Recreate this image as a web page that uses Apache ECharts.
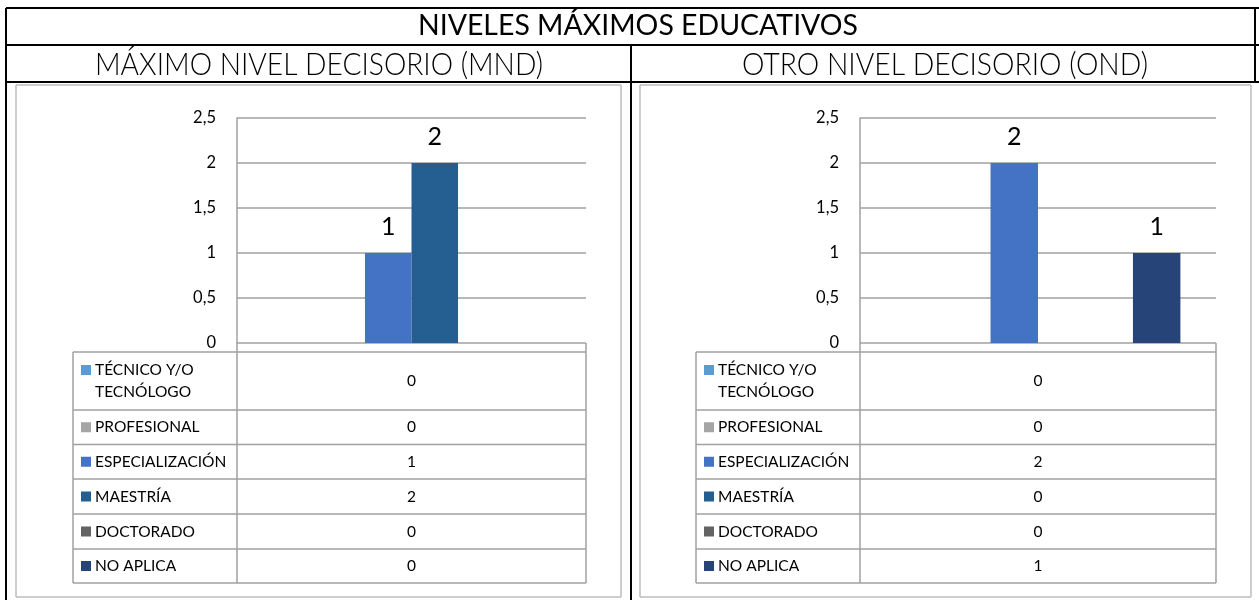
<!DOCTYPE html>
<html>
<head>
<meta charset="utf-8">
<script src="https://cdn.jsdelivr.net/npm/echarts@6/dist/echarts.min.js"></script>
<style>
  html, body { margin: 0; padding: 0; background: #fff; }
  #chart { width: 1259px; height: 600px; }
</style>
</head>
<body>
<div id="chart"></div>
<script>
// ---- data ----
const mainTitle = 'NIVELES MÁXIMOS EDUCATIVOS';
const panelTitles = ['MÁXIMO NIVEL DECISORIO (MND)', 'OTRO NIVEL DECISORIO (OND)'];
const levels = ['TÉCNICO Y/O\nTECNÓLOGO', 'PROFESIONAL', 'ESPECIALIZACIÓN', 'MAESTRÍA', 'DOCTORADO', 'NO APLICA'];
const mndValues = [0, 0, 1, 2, 0, 0];
const ondValues = [0, 0, 2, 0, 0, 1];
const yMin = 0;
const yMax = 2.5;
const yStep = 0.5;

// ---- styling ----
const levelColors = ['#5B9BD5', '#A5A5A5', '#4472C4', '#255E91', '#636363', '#264478'];
const panelValues = [mndValues, ondValues];
const FONT = 'Lato, "Open Sans", sans-serif';
const GRID_GRAY = '#a0a0a0';
const FRAME_GRAY = '#bdbdbd';

// panel geometry
const panels = [
  { frameL: 16, frameR: 621, plotL: 237, plotR: 586, tableL: 73, titleX: 319 },
  { frameL: 640, frameR: 1251, plotL: 860, plotR: 1216, tableL: 696, titleX: 945 }
];
const plotTop = 118, plotBottom = 343;
const tableRows = [352, 410, 444.5, 479, 514, 549, 583];

const chart = echarts.init(document.getElementById('chart'), null, { renderer: 'canvas' });

// horizontal scale so condensed header fonts span the measured width
const measureCtx = document.createElement('canvas').getContext('2d');
function fitScale(text, font, width) {
  measureCtx.font = font;
  return width / measureCtx.measureText(text).width;
}

const graphics = [];
function line(x1, y1, x2, y2, color, w) {
  graphics.push({ type: 'line', silent: true, z: 10,
    shape: { x1, y1, x2, y2 }, style: { stroke: color, lineWidth: w } });
}
function text(str, x, y, font, align, extra) {
  graphics.push(Object.assign({ type: 'text', silent: true, z: 11, x, y,
    style: { text: str, font, fill: '#000', textAlign: align, textVerticalAlign: 'middle' } }, extra || {}));
}

// outer header frame
line(6, 8, 1259, 8, '#000', 2);
line(6, 45, 1259, 45, '#000', 2);
line(6, 82, 1259, 82, '#000', 2);
line(6, 8, 6, 600, '#000', 2);
line(631, 45, 631, 600, '#000', 2);
line(1255, 8, 1255, 82, '#000', 2);

// header titles
const titleFont = '400 29px ' + FONT;
text(mainTitle, 638, 26, titleFont, 'center', { scaleX: fitScale(mainTitle, titleFont, 440) });
const subFont = '300 32px ' + FONT;
text(panelTitles[0], panels[0].titleX, 65, subFont, 'center', { scaleX: fitScale(panelTitles[0], subFont, 448) });
text(panelTitles[1], panels[1].titleX, 65, subFont, 'center', { scaleX: fitScale(panelTitles[1], subFont, 406) });

// chart frames, plot base box and data tables
panels.forEach((p, pi) => {
  line(p.frameL, 85, p.frameR, 85, FRAME_GRAY, 1.5);
  line(p.frameL, 597, p.frameR, 597, FRAME_GRAY, 1.5);
  line(p.frameL, 85, p.frameL, 597, FRAME_GRAY, 1.5);
  line(p.frameR, 85, p.frameR, 597, FRAME_GRAY, 1.5);

  // box under the zero line
  line(p.plotR, plotBottom, p.plotR, tableRows[0], GRID_GRAY, 1.5);
  line(p.plotL, plotBottom, p.plotL, tableRows[tableRows.length - 1], GRID_GRAY, 1.5);
  line(p.tableL, tableRows[0], p.tableL, tableRows[tableRows.length - 1], GRID_GRAY, 1.5);
  line(p.plotR, tableRows[0], p.plotR, tableRows[tableRows.length - 1], GRID_GRAY, 1.5);
  tableRows.forEach(y => line(p.tableL, y, p.plotR, y, GRID_GRAY, 1.5));

  levels.forEach((name, i) => {
    const top = tableRows[i], bot = tableRows[i + 1];
    const mid = (top + bot) / 2;
    const nLines = name.split('\n').length;
    const lh = 22;
    const firstLine = mid - (nLines - 1) * lh / 2;
    graphics.push({ type: 'rect', silent: true, z: 11,
      shape: { x: p.tableL + 8, y: firstLine - 5, width: 10, height: 10 },
      style: { fill: levelColors[i] } });
    graphics.push({ type: 'text', silent: true, z: 11, x: p.tableL + 22, y: mid,
      style: { text: name, font: '15.5px ' + FONT, fill: '#000', textAlign: 'left',
               textVerticalAlign: 'middle', lineHeight: lh } });
    text(String(panelValues[pi][i]), (p.plotL + p.plotR) / 2, mid, '15.5px ' + FONT, 'center');
  });
});

const grids = panels.map(p => ({
  left: p.plotL, width: p.plotR - p.plotL, top: plotTop, height: plotBottom - plotTop
}));
const xAxes = panels.map((p, i) => ({
  type: 'category', gridIndex: i, data: [''],
  axisLine: { show: false }, axisTick: { show: false }, axisLabel: { show: false }
}));
const yAxes = panels.map((p, i) => ({
  type: 'value', gridIndex: i, min: yMin, max: yMax, interval: yStep,
  axisLine: { show: true, lineStyle: { color: GRID_GRAY, width: 1.5 } },
  axisTick: { show: false },
  splitLine: { lineStyle: { color: GRID_GRAY, width: 1.5 } },
  axisLabel: { color: '#000', fontSize: 16.5, fontFamily: FONT, margin: 21,
               formatter: v => String(v).replace('.', ',') }
}));

const series = [];
panelValues.forEach((vals, pi) => {
  levels.forEach((name, i) => {
    series.push({
      type: 'bar', name: name.replace('\n', ' '),
      xAxisIndex: pi, yAxisIndex: pi,
      data: [vals[i]],
      barGap: '0%', barCategoryGap: '20%',
      itemStyle: { color: levelColors[i] },
      label: { show: true, position: 'top', distance: 14, color: '#000',
               fontSize: 25, fontFamily: FONT,
               formatter: prm => prm.value ? String(prm.value) : '' },
      silent: true
    });
  });
});

chart.setOption({
  animation: false,
  backgroundColor: '#fff',
  grid: grids,
  xAxis: xAxes,
  yAxis: yAxes,
  series: series,
  graphic: { elements: graphics }
});
</script>
</body>
</html>
